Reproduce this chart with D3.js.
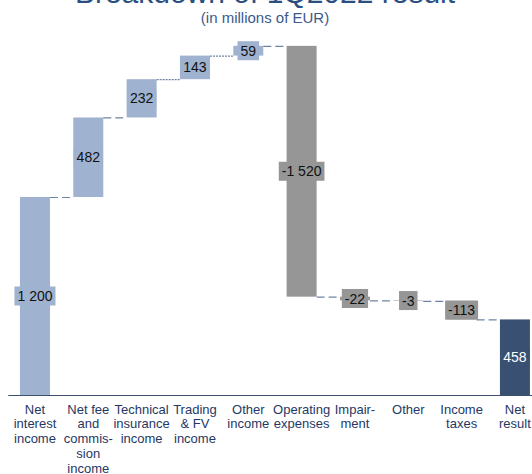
<!DOCTYPE html>
<html>
<head>
<meta charset="utf-8">
<script src="https://cdn.jsdelivr.net/npm/d3@7"></script>
<style>
  body { margin: 0; background: #fff; }
  svg { display: block; font-family: "Liberation Sans", Arial, sans-serif; }
</style>
</head>
<body>
<div id="chart"></div>
<script>
// data
const categories = ['Net interest income', 'Net fee and commission income', 'Technical insurance income',
  'Trading & FV income', 'Other income', 'Operating expenses', 'Impairment', 'Other', 'Income taxes', 'Net result'];
const labelLines = [
  ['Net', 'interest', 'income'],
  ['Net fee', 'and', 'commis-', 'sion', 'income'],
  ['Technical', 'insurance', 'income'],
  ['Trading', '& FV', 'income'],
  ['Other', 'income'],
  ['Operating', 'expenses'],
  ['Impair-', 'ment'],
  ['Other'],
  ['Income', 'taxes'],
  ['Net', 'result']
];
const values = [1200, 482, 232, 143, 59, -1520, -22, -3, -113, 458];
const isTotal = [false, false, false, false, false, false, false, false, false, true];

const width = 532, height = 474;
const colUp = '#9fb2cf', colDown = '#969696', colTotal = '#3a5072';

// waterfall steps
let run = 0;
const steps = values.map((v, i) => {
  let start, end;
  if (isTotal[i]) { start = 0; end = v; run = v; }
  else { start = run; end = run + v; run = end; }
  return { cat: categories[i], value: v, start, end, total: isTotal[i], lines: labelLines[i] };
});

const svg = d3.select('#chart').append('svg')
  .attr('width', width)
  .attr('height', height);

const x = d3.scaleBand()
  .domain(categories)
  .range([8.3, 541.6])
  .paddingInner(0.4375)
  .paddingOuter(0.21875);

const y = d3.scaleLinear()
  .domain([0, 2400])
  .range([395, -1]);

const fmt = d3.formatLocale({ decimal: '.', thousands: ' ', grouping: [3], currency: ['', ''], minus: '-' }).format(',d');

const colorOf = d => d.total ? colTotal : (d.value >= 0 ? colUp : colDown);

// title (partly cut off at top)
svg.append('text')
  .attr('x', 265).attr('y', 3)
  .attr('text-anchor', 'middle')
  .style('font-size', '30px')
  .attr('fill', '#2b4f80')
  .text('Breakdown of 1Q2022 result');

svg.append('text')
  .attr('x', 265).attr('y', 23)
  .attr('text-anchor', 'middle')
  .style('font-size', '15px')
  .attr('fill', '#3a5a8c')
  .text('(in millions of EUR)');

// bars
svg.selectAll('rect.bar')
  .data(steps)
  .enter()
  .append('rect')
  .attr('class', 'bar')
  .attr('x', d => x(d.cat))
  .attr('width', x.bandwidth())
  .attr('y', d => y(Math.max(d.start, d.end)))
  .attr('height', d => Math.abs(y(d.start) - y(d.end)))
  .attr('fill', colorOf);

// connectors
const dashes = ['8,4', '8,4', '2,1', '2,1', '8,4', '8,4', '8,4', '8,4', '8,4'];
svg.selectAll('line.conn')
  .data(steps.slice(0, -1))
  .enter()
  .append('line')
  .attr('class', 'conn')
  .attr('x1', d => x(d.cat) + x.bandwidth())
  .attr('x2', (d, i) => x(steps[i + 1].cat))
  .attr('y1', d => y(d.end) + 0.5)
  .attr('y2', d => y(d.end) + 0.5)
  .attr('stroke', '#6f84a3')
  .attr('stroke-width', 1.2)
  .attr('stroke-dasharray', (d, i) => dashes[i]);

// axis line
svg.append('line')
  .attr('x1', x.range()[0]).attr('x2', width)
  .attr('y1', y(0) + 0.5).attr('y2', y(0) + 0.5)
  .attr('stroke', '#3c4f6e')
  .attr('stroke-width', 1.2);

// value labels with background boxes
const lab = svg.selectAll('g.lab')
  .data(steps)
  .enter()
  .append('g')
  .attr('class', 'lab')
  .attr('transform', d => `translate(${x(d.cat) + x.bandwidth() / 2},${(y(d.start) + y(d.end)) / 2})`);

lab.append('text')
  .attr('text-anchor', 'middle')
  .attr('dy', '0.36em')
  .style('font-size', '14px')
  .attr('fill', d => d.total ? '#ffffff' : '#111111')
  .text(d => fmt(d.value))
  .each(function (d) {
    const w = this.getComputedTextLength() + 6;
    d3.select(this.parentNode).insert('rect', 'text')
      .attr('x', -w / 2).attr('width', w)
      .attr('y', -9.5).attr('height', 19)
      .attr('fill', colorOf(d));
  });

// category labels
const cat = svg.selectAll('text.cat')
  .data(steps)
  .enter()
  .append('text')
  .attr('class', 'cat')
  .attr('text-anchor', 'middle')
  .style('font-size', '13px')
  .attr('fill', '#1f3864')
  .attr('transform', d => `translate(${x(d.cat) + x.bandwidth() / 2},413.5)`);

cat.selectAll('tspan')
  .data(d => d.lines)
  .enter()
  .append('tspan')
  .attr('x', 0)
  .attr('y', (l, i) => i * 14.8)
  .text(l => l);
</script>
</body>
</html>
